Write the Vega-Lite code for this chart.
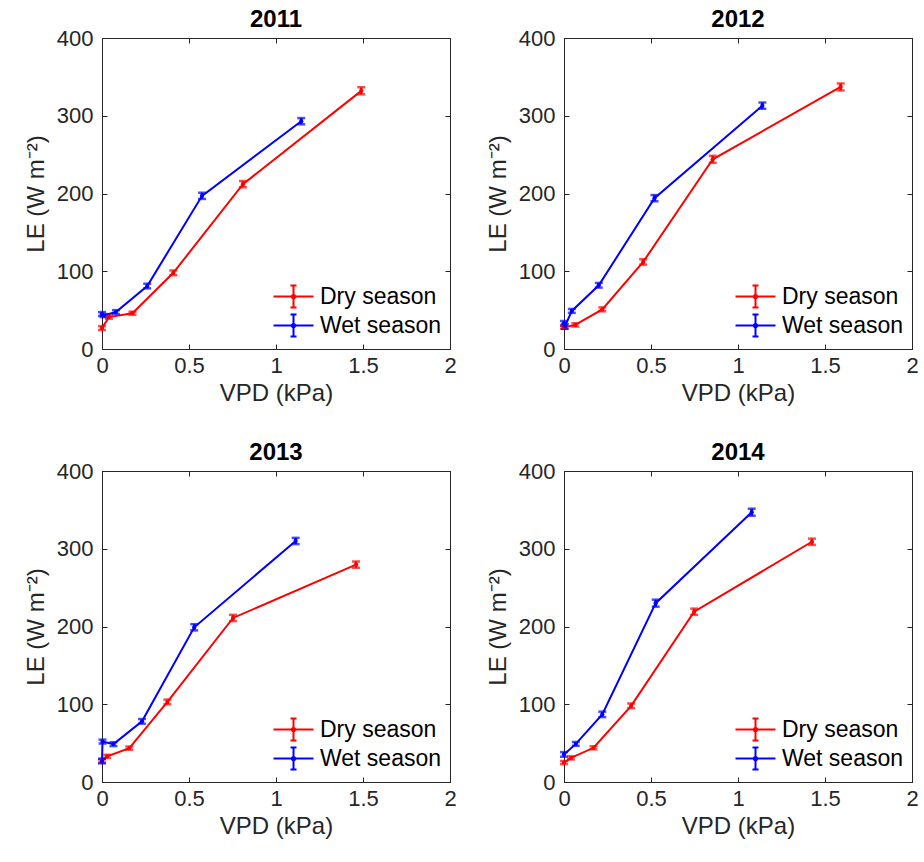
{
  "$schema": "https://vega.github.io/schema/vega-lite/v6.json",
  "background": "white",
  "padding": {"left": 23, "top": 7, "right": 5, "bottom": 5},
  "bounds": "flush",
  "spacing": {"row": 122, "column": 114},
  "columns": 2,
  "datasets": {
    "d": [
      {"year": 2011, "season": "Dry season", "vpd": 0.0, "le": 27, "err": 2.5},
      {"year": 2011, "season": "Dry season", "vpd": 0.04, "le": 41, "err": 2},
      {"year": 2011, "season": "Dry season", "vpd": 0.175, "le": 46, "err": 2},
      {"year": 2011, "season": "Dry season", "vpd": 0.41, "le": 98, "err": 3},
      {"year": 2011, "season": "Dry season", "vpd": 0.81, "le": 212, "err": 4},
      {"year": 2011, "season": "Dry season", "vpd": 1.49, "le": 332, "err": 4.5},
      {"year": 2011, "season": "Wet season", "vpd": 0.0, "le": 45, "err": 2.5},
      {"year": 2011, "season": "Wet season", "vpd": 0.01, "le": 43, "err": 2},
      {"year": 2011, "season": "Wet season", "vpd": 0.08, "le": 47.5, "err": 2.5},
      {"year": 2011, "season": "Wet season", "vpd": 0.26, "le": 81, "err": 3},
      {"year": 2011, "season": "Wet season", "vpd": 0.575, "le": 197, "err": 4},
      {"year": 2011, "season": "Wet season", "vpd": 1.145, "le": 293, "err": 4},
      {"year": 2012, "season": "Dry season", "vpd": 0.0, "le": 28, "err": 2},
      {"year": 2012, "season": "Dry season", "vpd": 0.065, "le": 31, "err": 2},
      {"year": 2012, "season": "Dry season", "vpd": 0.22, "le": 51, "err": 2.5},
      {"year": 2012, "season": "Dry season", "vpd": 0.455, "le": 112, "err": 3.5},
      {"year": 2012, "season": "Dry season", "vpd": 0.855, "le": 244, "err": 4.5},
      {"year": 2012, "season": "Dry season", "vpd": 1.59, "le": 337, "err": 4.5},
      {"year": 2012, "season": "Wet season", "vpd": 0.0, "le": 33, "err": 3},
      {"year": 2012, "season": "Wet season", "vpd": 0.005, "le": 29, "err": 3},
      {"year": 2012, "season": "Wet season", "vpd": 0.045, "le": 49, "err": 2.5},
      {"year": 2012, "season": "Wet season", "vpd": 0.2, "le": 82, "err": 3},
      {"year": 2012, "season": "Wet season", "vpd": 0.52, "le": 194, "err": 4},
      {"year": 2012, "season": "Wet season", "vpd": 1.14, "le": 313, "err": 4},
      {"year": 2013, "season": "Dry season", "vpd": 0.0, "le": 27, "err": 2},
      {"year": 2013, "season": "Dry season", "vpd": 0.03, "le": 33, "err": 2},
      {"year": 2013, "season": "Dry season", "vpd": 0.157, "le": 43.6, "err": 2},
      {"year": 2013, "season": "Dry season", "vpd": 0.376, "le": 103, "err": 3},
      {"year": 2013, "season": "Dry season", "vpd": 0.753, "le": 211, "err": 4},
      {"year": 2013, "season": "Dry season", "vpd": 1.46, "le": 279.5, "err": 4},
      {"year": 2013, "season": "Wet season", "vpd": 0.0, "le": 27, "err": 3},
      {"year": 2013, "season": "Wet season", "vpd": 0.003, "le": 52, "err": 2.5},
      {"year": 2013, "season": "Wet season", "vpd": 0.066, "le": 48.7, "err": 2.5},
      {"year": 2013, "season": "Wet season", "vpd": 0.23, "le": 78, "err": 3},
      {"year": 2013, "season": "Wet season", "vpd": 0.53, "le": 199, "err": 4},
      {"year": 2013, "season": "Wet season", "vpd": 1.113, "le": 310, "err": 4},
      {"year": 2014, "season": "Dry season", "vpd": 0.0, "le": 25, "err": 2},
      {"year": 2014, "season": "Dry season", "vpd": 0.04, "le": 31, "err": 2},
      {"year": 2014, "season": "Dry season", "vpd": 0.17, "le": 44, "err": 2},
      {"year": 2014, "season": "Dry season", "vpd": 0.386, "le": 98, "err": 3},
      {"year": 2014, "season": "Dry season", "vpd": 0.748, "le": 219, "err": 4},
      {"year": 2014, "season": "Dry season", "vpd": 1.425, "le": 309, "err": 4},
      {"year": 2014, "season": "Wet season", "vpd": 0.0, "le": 35.5, "err": 3},
      {"year": 2014, "season": "Wet season", "vpd": 0.068, "le": 49, "err": 2.5},
      {"year": 2014, "season": "Wet season", "vpd": 0.22, "le": 87, "err": 3.5},
      {"year": 2014, "season": "Wet season", "vpd": 0.527, "le": 230, "err": 4.5},
      {"year": 2014, "season": "Wet season", "vpd": 1.079, "le": 347, "err": 4.5}
    ]
  },
  "resolve": {"scale": {"color": "independent"}, "legend": {"color": "independent"}},
  "concat": [
    {
      "width": 348, "height": 311,
      "title": {"text": "2011"},
      "data": {"name": "d"},
      "transform": [{"filter": "datum.year == 2011"}],
      "resolve": {"axis": {"x": "independent", "y": "independent"}},
      "layer": [
        {"mark": {"type": "line", "strokeWidth": 2},
         "encoding": {
           "x": {"field": "vpd", "type": "quantitative", "scale": {"domain": [0, 2], "nice": false, "padding": 0}, "axis": {"title": "VPD (kPa)", "values": [0, 0.5, 1, 1.5, 2], "format": "~g"}},
           "y": {"field": "le", "type": "quantitative", "scale": {"domain": [0, 400], "nice": false, "padding": 0}, "axis": {"title": "LE (W m⁻²)", "values": [0, 100, 200, 300, 400]}},
           "color": {"field": "season", "type": "nominal", "scale": {"domain": ["Dry season", "Wet season"], "range": ["#FF0000", "#0000FF"]}, "legend": {"orient": "bottom-right"}}
         }},
        {"mark": {"type": "errorbar", "thickness": 2.5, "ticks": {"size": 8, "thickness": 2.5}},
         "encoding": {
           "x": {"field": "vpd", "type": "quantitative", "axis": null},
           "y": {"field": "le", "type": "quantitative", "axis": null},
           "yError": {"field": "err"},
           "color": {"field": "season", "type": "nominal"}
         }},
        {"mark": {"type": "point", "filled": true, "size": 18, "opacity": 1},
         "encoding": {
           "x": {"field": "vpd", "type": "quantitative", "axis": {"orient": "top", "labels": false, "title": null, "domain": false, "values": [0, 0.5, 1, 1.5, 2]}},
           "y": {"field": "le", "type": "quantitative", "axis": {"orient": "right", "labels": false, "title": null, "domain": false, "values": [0, 100, 200, 300, 400]}},
           "color": {"field": "season", "type": "nominal"}
         }}
      ]
    },
    {
      "width": 348, "height": 311,
      "title": {"text": "2012"},
      "data": {"name": "d"},
      "transform": [{"filter": "datum.year == 2012"}],
      "resolve": {"axis": {"x": "independent", "y": "independent"}},
      "layer": [
        {"mark": {"type": "line", "strokeWidth": 2},
         "encoding": {
           "x": {"field": "vpd", "type": "quantitative", "scale": {"domain": [0, 2], "nice": false, "padding": 0}, "axis": {"title": "VPD (kPa)", "values": [0, 0.5, 1, 1.5, 2], "format": "~g"}},
           "y": {"field": "le", "type": "quantitative", "scale": {"domain": [0, 400], "nice": false, "padding": 0}, "axis": {"title": "LE (W m⁻²)", "values": [0, 100, 200, 300, 400]}},
           "color": {"field": "season", "type": "nominal", "scale": {"domain": ["Dry season", "Wet season"], "range": ["#FF0000", "#0000FF"]}, "legend": {"orient": "bottom-right"}}
         }},
        {"mark": {"type": "errorbar", "thickness": 2.5, "ticks": {"size": 8, "thickness": 2.5}},
         "encoding": {
           "x": {"field": "vpd", "type": "quantitative", "axis": null},
           "y": {"field": "le", "type": "quantitative", "axis": null},
           "yError": {"field": "err"},
           "color": {"field": "season", "type": "nominal"}
         }},
        {"mark": {"type": "point", "filled": true, "size": 18, "opacity": 1},
         "encoding": {
           "x": {"field": "vpd", "type": "quantitative", "axis": {"orient": "top", "labels": false, "title": null, "domain": false, "values": [0, 0.5, 1, 1.5, 2]}},
           "y": {"field": "le", "type": "quantitative", "axis": {"orient": "right", "labels": false, "title": null, "domain": false, "values": [0, 100, 200, 300, 400]}},
           "color": {"field": "season", "type": "nominal"}
         }}
      ]
    },
    {
      "width": 348, "height": 311,
      "title": {"text": "2013"},
      "data": {"name": "d"},
      "transform": [{"filter": "datum.year == 2013"}],
      "resolve": {"axis": {"x": "independent", "y": "independent"}},
      "layer": [
        {"mark": {"type": "line", "strokeWidth": 2},
         "encoding": {
           "x": {"field": "vpd", "type": "quantitative", "scale": {"domain": [0, 2], "nice": false, "padding": 0}, "axis": {"title": "VPD (kPa)", "values": [0, 0.5, 1, 1.5, 2], "format": "~g"}},
           "y": {"field": "le", "type": "quantitative", "scale": {"domain": [0, 400], "nice": false, "padding": 0}, "axis": {"title": "LE (W m⁻²)", "values": [0, 100, 200, 300, 400]}},
           "color": {"field": "season", "type": "nominal", "scale": {"domain": ["Dry season", "Wet season"], "range": ["#FF0000", "#0000FF"]}, "legend": {"orient": "bottom-right"}}
         }},
        {"mark": {"type": "errorbar", "thickness": 2.5, "ticks": {"size": 8, "thickness": 2.5}},
         "encoding": {
           "x": {"field": "vpd", "type": "quantitative", "axis": null},
           "y": {"field": "le", "type": "quantitative", "axis": null},
           "yError": {"field": "err"},
           "color": {"field": "season", "type": "nominal"}
         }},
        {"mark": {"type": "point", "filled": true, "size": 18, "opacity": 1},
         "encoding": {
           "x": {"field": "vpd", "type": "quantitative", "axis": {"orient": "top", "labels": false, "title": null, "domain": false, "values": [0, 0.5, 1, 1.5, 2]}},
           "y": {"field": "le", "type": "quantitative", "axis": {"orient": "right", "labels": false, "title": null, "domain": false, "values": [0, 100, 200, 300, 400]}},
           "color": {"field": "season", "type": "nominal"}
         }}
      ]
    },
    {
      "width": 348, "height": 311,
      "title": {"text": "2014"},
      "data": {"name": "d"},
      "transform": [{"filter": "datum.year == 2014"}],
      "resolve": {"axis": {"x": "independent", "y": "independent"}},
      "layer": [
        {"mark": {"type": "line", "strokeWidth": 2},
         "encoding": {
           "x": {"field": "vpd", "type": "quantitative", "scale": {"domain": [0, 2], "nice": false, "padding": 0}, "axis": {"title": "VPD (kPa)", "values": [0, 0.5, 1, 1.5, 2], "format": "~g"}},
           "y": {"field": "le", "type": "quantitative", "scale": {"domain": [0, 400], "nice": false, "padding": 0}, "axis": {"title": "LE (W m⁻²)", "values": [0, 100, 200, 300, 400]}},
           "color": {"field": "season", "type": "nominal", "scale": {"domain": ["Dry season", "Wet season"], "range": ["#FF0000", "#0000FF"]}, "legend": {"orient": "bottom-right"}}
         }},
        {"mark": {"type": "errorbar", "thickness": 2.5, "ticks": {"size": 8, "thickness": 2.5}},
         "encoding": {
           "x": {"field": "vpd", "type": "quantitative", "axis": null},
           "y": {"field": "le", "type": "quantitative", "axis": null},
           "yError": {"field": "err"},
           "color": {"field": "season", "type": "nominal"}
         }},
        {"mark": {"type": "point", "filled": true, "size": 18, "opacity": 1},
         "encoding": {
           "x": {"field": "vpd", "type": "quantitative", "axis": {"orient": "top", "labels": false, "title": null, "domain": false, "values": [0, 0.5, 1, 1.5, 2]}},
           "y": {"field": "le", "type": "quantitative", "axis": {"orient": "right", "labels": false, "title": null, "domain": false, "values": [0, 100, 200, 300, 400]}},
           "color": {"field": "season", "type": "nominal"}
         }}
      ]
    }
  ],
  "config": {
    "font": "Liberation Sans",
    "view": {"stroke": "#262626", "strokeWidth": 1},
    "axis": {
      "grid": false, "labelFlush": false,
      "labelFont": "Liberation Sans", "labelFontSize": 22, "labelColor": "#262626",
      "titleFont": "Liberation Sans", "titleFontSize": 24, "titleFontWeight": "normal", "titleColor": "#262626",
      "domainColor": "#262626", "domainWidth": 1,
      "tickColor": "#262626", "tickSize": -5, "tickWidth": 1,
      "labelPadding": 14, "titlePadding": 8
    },
    "axisX": {"labelPadding": 11, "titlePadding": 5},
    "title": {"font": "Liberation Sans", "fontSize": 24, "fontWeight": "bold", "color": "#000000", "offset": -5},
    "legend": {
      "title": null,
      "labelFont": "Liberation Sans", "labelFontSize": 23, "labelColor": "#000000",
      "symbolType": "M-2,0H2M0,-1.1V1.1M-0.3,-1.1H0.3M-0.3,1.1H0.3M0.16,0A0.16,0.16,0,1,1,-0.16,0A0.16,0.16,0,1,1,0.16,0Z",
      "symbolSize": 400, "symbolStrokeWidth": 2, "symbolOpacity": 1,
      "labelOffset": 15, "rowPadding": -2, "padding": 0, "offset": 8
    }
  }
}
